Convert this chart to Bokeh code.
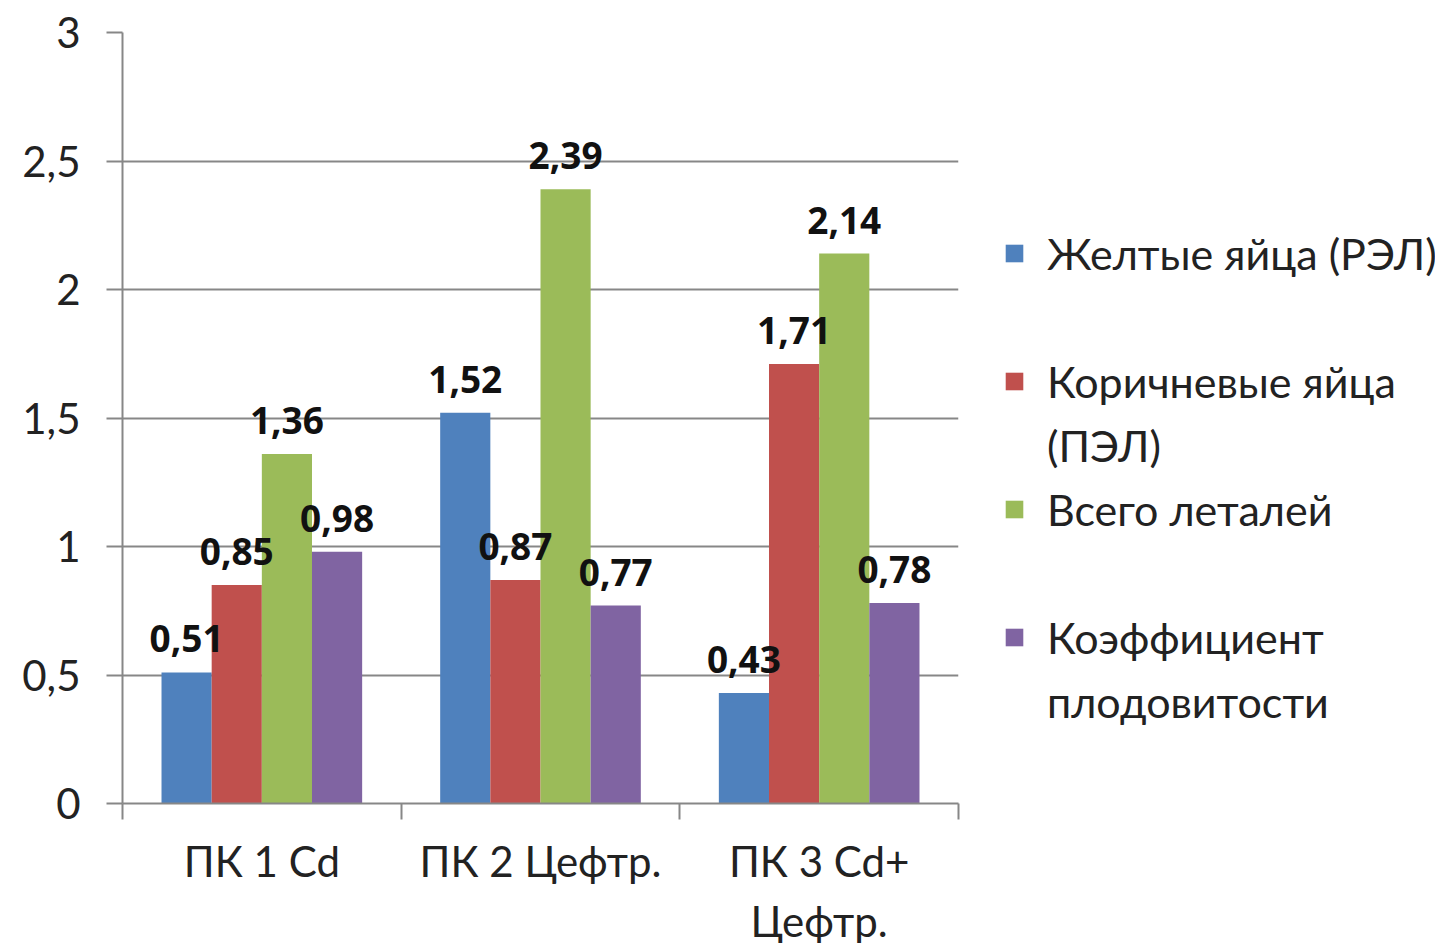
from bokeh.plotting import figure
from bokeh.models import ColumnDataSource, FixedTicker, LabelSet, Legend, LegendItem, Range1d
from bokeh.core.properties import value
from bokeh.embed import file_html
from bokeh.resources import INLINE

categories = ["ПК 1 Cd", "ПК 2 Цефтр.", "ПК 3 Cd+\nЦефтр."]
# legend text split in lines (one entry may span two lines)
series_names = [["Желтые яйца (РЭЛ)"], ["Коричневые яйца", "(ПЭЛ)"],
                ["Всего леталей"], ["Коэффициент", "плодовитости"]]
yellow_eggs = [0.51, 1.52, 0.43]
brown_eggs = [0.85, 0.87, 1.71]
total_lethal = [1.36, 2.39, 2.14]
fertility = [0.98, 0.77, 0.78]
colors = ["#4F81BD", "#C0504D", "#9BBB59", "#8064A2"]
y_ticks = [0, 0.5, 1, 1.5, 2, 2.5, 3]
y_tick_labels = ["0", "0,5", "1", "1,5", "2", "2,5", "3"]

series = [yellow_eggs, brown_eggs, total_lethal, fertility]
BAR_W = 0.18
FONT = "Lato"
BOLD_FONT = "Noto Sans"
GRID = "#878787"

p = figure(frame_width=836, frame_height=771, x_range=Range1d(0, 3), y_range=Range1d(0, 3),
           output_backend="svg", toolbar_location=None,
           min_border_left=122, min_border_right=10, min_border_top=32, min_border_bottom=132)
p.outline_line_color = None
p.background_fill_color = "white"
p.border_fill_color = "white"

blank = p.vbar(x=[], top=[], width=BAR_W, fill_alpha=0, line_alpha=0)

items = []
sources = []
for s, vals in enumerate(series):
    xs = [i + 0.5 + (s - 1.5) * BAR_W for i in range(len(categories))]
    src = ColumnDataSource(dict(x=xs, top=vals,
                                txt=[f"{v:.2f}".replace(".", ",") for v in vals]))
    sources.append(src)
    r = p.vbar(x="x", top="top", width=BAR_W, bottom=0, source=src,
               fill_color=colors[s], line_color=None)
    lines = series_names[s]
    items.append(LegendItem(label=lines[0], renderers=[r]))
    if len(lines) > 1:
        items.append(LegendItem(label=lines[1], renderers=[blank]))
    elif s < len(series) - 1:
        items.append(LegendItem(label=" ", renderers=[blank]))

for src in sources:
    lbl = LabelSet(x="x", y="top", text="txt", source=src, text_align="center",
                   text_baseline="alphabetic", y_offset=20, text_font=value(BOLD_FONT),
                   text_font_style="bold", text_font_size="37px", text_color="#111111")
    p.add_layout(lbl)

# y axis
p.yaxis.ticker = FixedTicker(ticks=y_ticks)
p.yaxis.major_label_overrides = {t: l for t, l in zip(y_ticks, y_tick_labels)}
p.yaxis.major_label_text_font = FONT
p.yaxis.major_label_text_font_size = "42px"
p.yaxis.major_label_text_color = "#222222"
p.yaxis.major_tick_out = 16
p.yaxis.major_tick_in = 0
p.yaxis.minor_tick_line_color = None
p.yaxis.major_tick_line_color = GRID
p.yaxis.major_tick_line_width = 2
p.yaxis.axis_line_color = GRID
p.yaxis.axis_line_width = 2
p.yaxis.major_label_standoff = 26

# x axis
p.xaxis.ticker = FixedTicker(ticks=[i + 0.5 for i in range(len(categories))],
                             minor_ticks=list(range(len(categories) + 1)))
p.xaxis.major_label_overrides = {i + 0.5: c for i, c in enumerate(categories)}
p.xaxis.major_label_text_font = FONT
p.xaxis.major_label_text_font_size = "42px"
p.xaxis.major_label_text_color = "#222222"
p.xaxis.major_tick_line_color = None
p.xaxis.major_tick_out = 16
p.xaxis.minor_tick_out = 16
p.xaxis.minor_tick_in = 0
p.xaxis.minor_tick_line_color = GRID
p.xaxis.minor_tick_line_width = 2
p.xaxis.axis_line_color = GRID
p.xaxis.axis_line_width = 2
p.xaxis.major_label_standoff = 16

p.xgrid.grid_line_color = None
p.ygrid.ticker = FixedTicker(ticks=y_ticks)
p.ygrid.grid_line_color = GRID
p.ygrid.grid_line_width = 2

legend = Legend(items=items, location=(45, 70), orientation="vertical",
                label_text_font=FONT, label_text_font_size="43px",
                label_text_color="#222222", label_height=64,
                glyph_width=22, glyph_height=22, label_standoff=22,
                spacing=0, padding=0, margin=0,
                border_line_alpha=0, background_fill_alpha=0)
p.add_layout(legend, "right")

open("out.html", "w").write(file_html(p, INLINE))
